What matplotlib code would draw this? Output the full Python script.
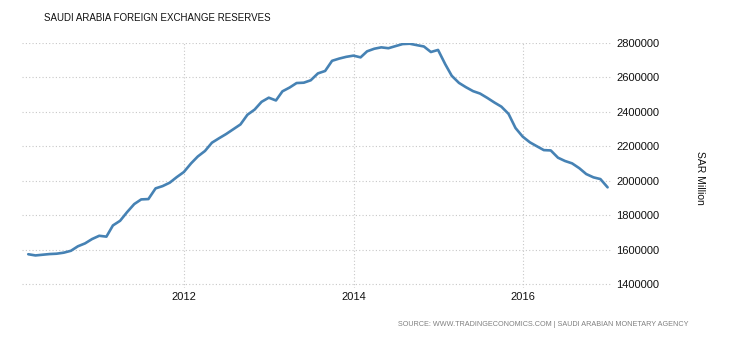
import numpy as np
import pandas as pd
import matplotlib
matplotlib.use('Agg')
import matplotlib.pyplot as plt
import matplotlib.dates as mdates
from matplotlib.ticker import FuncFormatter

plt.rcParams['font.family'] = ['Liberation Sans', 'DejaVu Sans']

# monthly reserves, SAR million (Feb 2010 - Dec 2016)
months = pd.date_range('2010-02-28', '2016-12-31', freq='ME')
reserves = [
    1573000, 1566000, 1570000, 1574000, 1576000, 1582000, 1593000, 1619000,
    1636000, 1661000, 1680000, 1675000, 1740000, 1767000, 1817000, 1864000,
    1891000, 1893000, 1955000, 1968000, 1988000, 2020000, 2050000, 2100000,
    2140000, 2172000, 2220000, 2246000, 2270000, 2298000, 2326000, 2382000,
    2412000, 2457000, 2481000, 2465000, 2518000, 2540000, 2566000, 2568000,
    2582000, 2622000, 2636000, 2695000, 2708000, 2718000, 2725000, 2715000,
    2750000, 2765000, 2773000, 2768000, 2780000, 2792000, 2794000, 2786000,
    2778000, 2746000, 2758000, 2675000, 2608000, 2567000, 2542000, 2519000,
    2505000, 2480000, 2453000, 2429000, 2387000, 2305000, 2255000, 2222000,
    2200000, 2177000, 2175000, 2133000, 2114000, 2100000, 2072000, 2038000,
    2019000, 2009000, 1961000,
]
yticks = [1400000, 1600000, 1800000, 2000000, 2200000, 2400000, 2600000, 2800000]
xticks = ['2012-01-01', '2014-01-01', '2016-01-01']

fig = plt.figure(figsize=(7.3, 3.4), dpi=100)
ax = fig.add_axes([22/730, 1 - 288/340, 590/730, (288 - 42.7)/340])

ax.plot(months, reserves, color='#4682b4', lw=1.9, solid_joinstyle='round',
        solid_capstyle='round')

ax.set_ylim(1377100, 2800000)
ax.set_xlim(pd.Timestamp('2010-02-01'), pd.Timestamp('2017-01-19'))
ax.set_yticks(yticks)
ax.set_xticks([pd.Timestamp(t) for t in xticks])
ax.xaxis.set_major_formatter(mdates.DateFormatter('%Y'))
ax.yaxis.set_major_formatter(FuncFormatter(lambda v, p: '%d' % v))
ax.yaxis.tick_right()

ax.grid(True, color='#c8c8c8', linestyle=(0, (1, 2)), linewidth=0.8)
ax.set_axisbelow(True)
for s in ax.spines.values():
    s.set_visible(False)
ax.tick_params(axis='both', length=0, labelsize=8, colors='#111111')
ax.tick_params(axis='y', pad=3)
ax.tick_params(axis='x', pad=3)
for lab in ax.get_yticklabels():
    lab.set_horizontalalignment('left')

fig.text(44/730, 1 - 18/340, 'SAUDI ARABIA FOREIGN EXCHANGE RESERVES',
         fontsize=7, color='#111111', va='center', ha='left')
fig.text(700/730, 1 - 178/340, 'SAR Million', rotation=-90, fontsize=7.5,
         color='#111111', va='center', ha='center')
fig.text(688/730, 1 - 325/340,
         'SOURCE: WWW.TRADINGECONOMICS.COM | SAUDI ARABIAN MONETARY AGENCY',
         fontsize=5.2, color='#808080', va='center', ha='right')

fig.savefig('out.png', dpi=100)
